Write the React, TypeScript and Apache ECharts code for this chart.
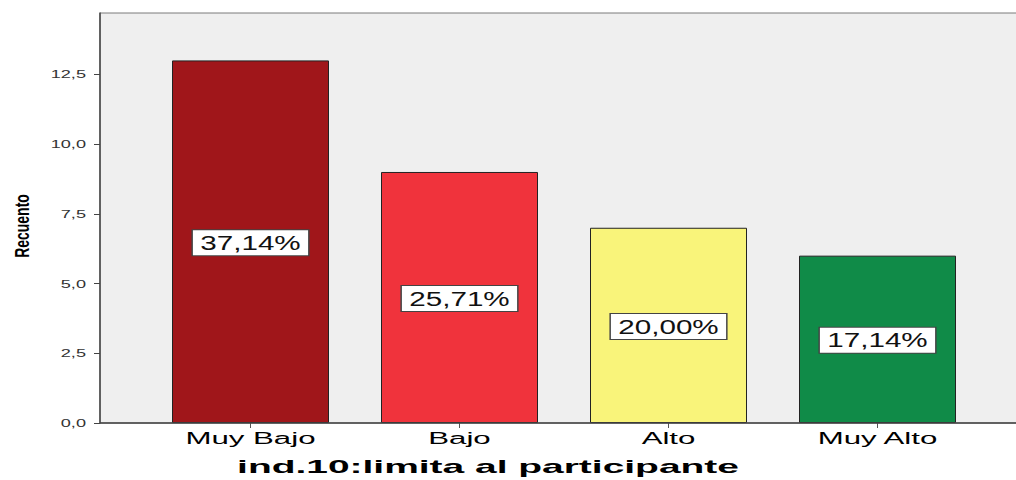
import React, { useEffect, useRef } from "react";
import * as echarts from "echarts";

const categories = ["Muy Bajo", "Bajo", "Alto", "Muy Alto"];
const counts = [13, 9, 7, 6];
const percentLabels = ["37,14%", "25,71%", "20,00%", "17,14%"];
const barColors = ["#a0161a", "#f0333c", "#f9f47a", "#108b48"];
const yTickValues = [0, 2.5, 5, 7.5, 10, 12.5];
const xAxisTitle = "ind.10:limita al participante";
const yAxisTitle = "Recuento";

const FONT = "Arial, Liberation Sans, sans-serif";

export default function App() {
  const ref = useRef<HTMLDivElement>(null);
  useEffect(() => {
    if (!ref.current) return;
    const chart = echarts.init(ref.current, undefined, { renderer: "svg" });
    const staticGraphics: any[] = [
      {
        type: "rect",
        z: -10,
        shape: { x: 100, y: 13, width: 930, height: 410 },
        style: { fill: "#efefef", stroke: "#7a7a7a", lineWidth: 1 },
      },
      {
        type: "line",
        z: 50,
        shape: { x1: 100, y1: 423, x2: 1020, y2: 423 },
        style: { stroke: "#444", lineWidth: 1.5 },
      },
      {
        type: "text",
        z: 50,
        x: 488,
        y: 466,
        scaleX: 2.05,
        style: {
          text: xAxisTitle,
          fontSize: 19,
          fontWeight: "bold",
          fontFamily: FONT,
          fill: "#000",
          align: "center",
          verticalAlign: "middle",
        },
      },
      {
        type: "text",
        z: 50,
        x: 22,
        y: 226,
        rotation: Math.PI / 2,
        scaleY: 1.5,
        style: {
          text: yAxisTitle,
          fontSize: 14,
          fontWeight: "bold",
          fontFamily: FONT,
          fill: "#000",
          align: "center",
          verticalAlign: "middle",
        },
      },
    ];
    const option: any = {
      animation: false,
      backgroundColor: "#ffffff",
      grid: { left: 146, right: 34, top: 13, bottom: 57, containLabel: false },
      graphic: staticGraphics,
      xAxis: {
        type: "category",
        data: categories,
        boundaryGap: true,
        axisLine: { show: false },
        axisTick: { show: true, alignWithLabel: true, length: 5, lineStyle: { color: "#555" } },
        axisLabel: { show: false },
        splitLine: { show: false },
      },
      yAxis: {
        type: "value",
        min: 0,
        max: 14.7,
        interval: 2.5,
        offset: 46,
        axisLine: { show: true, lineStyle: { color: "#444", width: 1.5 } },
        axisTick: { show: true, length: 6, customValues: yTickValues, lineStyle: { color: "#444" } },
        axisLabel: { show: false },
        splitLine: { show: false },
      },
      series: [
        {
          type: "bar",
          barWidth: 157,
          data: counts.map((v, i) => ({
            value: v,
            itemStyle: { color: barColors[i], borderColor: "#222", borderWidth: 1 },
          })),
        },
      ],
    };
    chart.setOption(option);

    const toPx = (i: number, v: number): number[] => {
      const p = chart.convertToPixel({ gridIndex: 0 }, [i, v]) as any;
      return Array.isArray(p) ? p : [0, 0];
    };

    // Axis labels and value labels placed through the chart's own scales,
    // stretched horizontally like the reference.
    const dyn: any[] = [];
    categories.forEach((c, i) => {
      const [px] = toPx(i, 0);
      dyn.push({
        type: "text",
        z: 50,
        x: px,
        y: 431,
        scaleX: 1.95,
        style: {
          text: c,
          fontSize: 16,
          fontFamily: FONT,
          fill: "#000",
          align: "center",
          verticalAlign: "top",
        },
      });
      const [bx, by] = toPx(i, counts[i] / 2);
      dyn.push({
        type: "text",
        z: 60,
        x: bx,
        y: by + 1,
        scaleX: 1.48,
        style: {
          text: percentLabels[i],
          fontSize: 20,
          fontFamily: FONT,
          fill: "#111",
          align: "center",
          verticalAlign: "middle",
          backgroundColor: "#ffffff",
          borderColor: "#444",
          borderWidth: 1,
          padding: [3, 5, 2, 5],
        },
      });
    });
    yTickValues.forEach((v) => {
      const [, py] = toPx(0, v);
      dyn.push({
        type: "text",
        z: 50,
        x: 86,
        y: py,
        scaleX: 1.65,
        style: {
          text: v.toFixed(1).replace(".", ","),
          fontSize: 11,
          fontFamily: FONT,
          fill: "#333",
          align: "right",
          verticalAlign: "middle",
        },
      });
    });
    chart.setOption({ graphic: staticGraphics.concat(dyn) });
    return () => chart.dispose();
  }, []);
  return (
    <div
      ref={ref}
      style={{ position: "fixed", left: 0, top: 0, width: 1016, height: 480 }}
    />
  );
}
